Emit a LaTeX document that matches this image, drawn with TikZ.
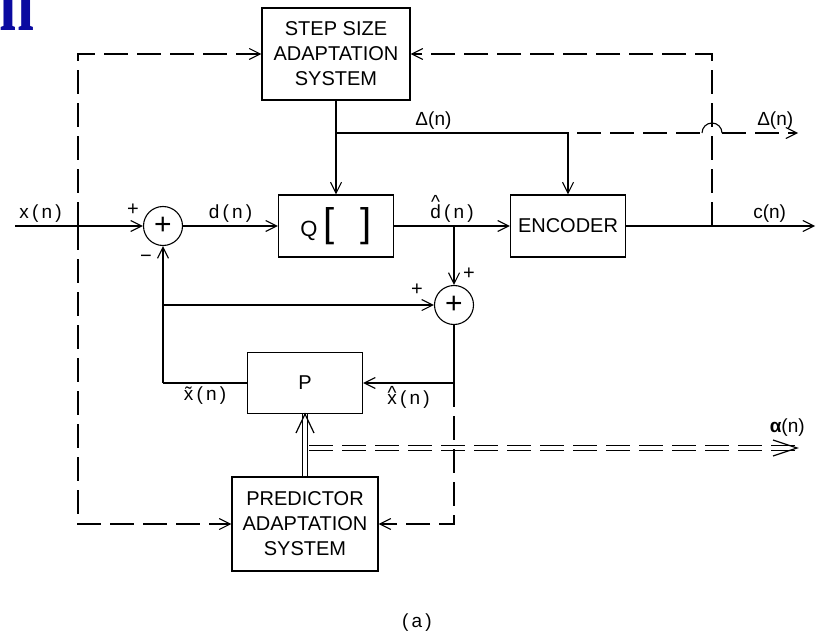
\documentclass[tikz,border=0pt]{standalone}
\usepackage{fontspec}
\setmainfont{Liberation Sans}
\newfontfamily\titlefont{Liberation Serif}
\usetikzlibrary{arrows.meta}
\definecolor{slideblue}{RGB}{10,10,160}
\newcommand{\overmark}[3]{\setbox0\hbox{#3}\rlap{\hbox to\wd0{\hss\raisebox{#1}{#2}\hss}}#3}

\begin{document}
\begin{tikzpicture}[x=1pt,y=-1pt,line width=1.1pt,
  >={Straight Barb[length=11pt,width=11pt]},
  block/.style={draw,rectangle,align=center,inner sep=0pt,font=\fontsize{20}{25}\selectfont},
  sumnode/.style={draw,circle,minimum size=39pt,inner sep=0pt,font=\fontsize{30}{30}\selectfont},
  lbl/.style={font=\fontsize{19}{21}\selectfont},
  sgn/.style={font=\fontsize{20}{20}\selectfont,inner sep=0pt},
  ctrl/.style={dash pattern=on 24pt off 9pt},
  vec/.style={double,double distance=4.5pt,line width=0.9pt},
  chev/.style={line width=1.2pt,line join=miter}]
\useasboundingbox (0,0) rectangle (826,636);

\node[font=\titlefont\bfseries\fontsize{56}{56}\selectfont,text=slideblue,anchor=base west,inner sep=0pt] (ttl) at (-1,31) {\scalebox{1.12}[1.7]{n}};

\node[block,minimum width=148pt,minimum height=92pt] (step) at (336,54) {STEP SIZE\\ADAPTATION\\SYSTEM};
\node[block,minimum width=115pt,minimum height=62pt] (q) at (336,226) {{\fontsize{22}{22}\selectfont Q}\hspace{6pt}{\fontsize{40}{40}\selectfont[\hspace{26pt}]}};
\node[block,minimum width=115pt,minimum height=62pt] (enc) at (568,226) {ENCODER};
\node[sumnode] (s1) at (163,226) {+};
\node[sumnode] (s2) at (454,305) {+};
\node[block,minimum width=115pt,minimum height=61pt] (p) at (305,383) {P};
\node[block,minimum width=146pt,minimum height=94pt] (pas) at (305,524) {PREDICTOR\\ADAPTATION\\SYSTEM};

\coordinate (xin) at (15,226);
\coordinate (xtap) at (78,226);
\coordinate (dtap) at (336,133);
\coordinate (dgo) at (577,133);
\coordinate (hopl) at (702,133);
\coordinate (hopr) at (722,133);
\coordinate (dend) at (798,133);
\coordinate (qtap) at (454,226);
\coordinate (ctap) at (712,226);
\coordinate (cend) at (815,226);
\coordinate (fbl) at (163,383);
\coordinate (fbm) at (163,305);
\coordinate (xhat) at (454,383);
\coordinate (atap) at (309,448);
\coordinate (aend) at (797,448);
\coordinate (pchl) at (296,433);
\coordinate (pchr) at (314,433);
\coordinate (achu) at (773,440);
\coordinate (achd) at (773,456);

% forward path
\draw[->] (xin) -- node[lbl,above,pos=0.2] {x\,(\,n\,)} (s1);
\draw[->] (s1) -- node[lbl,above] {d\,(\,n\,)} (q);
\draw[->] (q) -- node[lbl,above] {\overmark{0.5em}{\char"5E}{d}\,(\,n\,)} (enc);
\draw[->] (enc) -- node[lbl,above,pos=0.76] {c(n)} (cend);
\draw[->] (qtap) -- (s2);

\node[sgn] (s1a) at (133,210) {+};
\node[sgn] (s1b) at (146,259) {\textminus};
\node[sgn] (s2a) at (417,290) {+};
\node[sgn] (s2b) at (469,274) {+};

% step size
\draw[->] (step) -- (q);
\draw[->] (dtap) -| node[lbl,above,pos=0.21] {Δ(n)} (enc);
\draw[ctrl] (dgo) -- (hopl);
\draw (hopl) arc[start angle=180,end angle=360,radius=10];
\draw[->,ctrl] (hopr) -- node[lbl,above,pos=0.7] {Δ(n)} (dend);

% predictor loop
\draw (p.west) -- node[lbl,below] {\~x\,(\,n\,)} (fbl);
\draw[->] (fbl) -- (s1);
\draw[->] (fbm) -- (s2);
\draw (s2) -- (xhat);
\draw[->] (xhat) -- node[lbl,below] {\overmark{0.25em}{\char"5E}{x}\,(\,n\,)} (p.east);

% predictor coefficients
\draw[vec] (pas) -- (p);
\draw[chev] (pchl) -- (p.south) -- (pchr);
\draw[vec,ctrl] (atap) -- node[lbl,above=8pt,pos=0.98] {{\bfseries α}(n)} (aend);
\draw[chev] (achu) -- (aend) -- (achd);

% adaptation (dashed)
\draw[->,ctrl] (xtap) |- (step.west);
\draw[->,ctrl] (xtap) |- (pas.west);
\draw[->,ctrl] (ctap) |- (step.east);
\draw[->,ctrl] (xhat) |- (pas.east);

\node[lbl] (cap) at (417,623) {(\,a\,)};
\end{tikzpicture}
\end{document}
